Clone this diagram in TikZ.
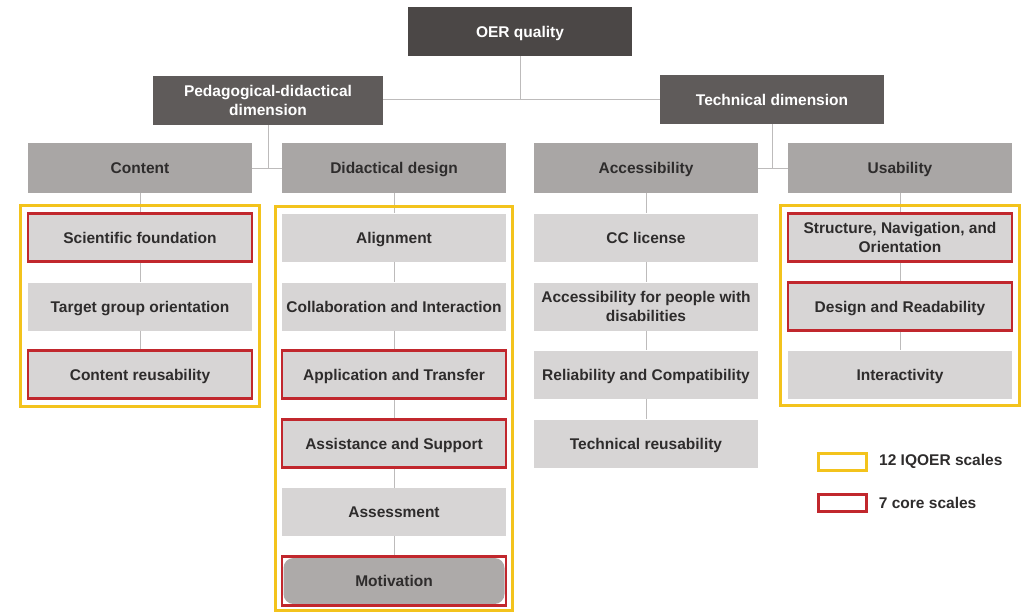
\documentclass[tikz,border=0pt]{standalone}
\usepackage{fontspec}
\setmainfont{Liberation Sans}
\usetikzlibrary{fit,positioning}
\definecolor{oerdark}{HTML}{4B4746}
\definecolor{dimgrey}{HTML}{5F5B5A}
\definecolor{midgrey}{HTML}{A9A6A5}
\definecolor{lightgrey}{HTML}{D7D5D5}
\definecolor{motgrey}{HTML}{ADAAA9}
\definecolor{textgrey}{HTML}{2E2C2C}
\definecolor{linegrey}{HTML}{BDBBBB}
\definecolor{corered}{HTML}{C1272D}
\definecolor{iqyellow}{HTML}{F3C31C}
\begin{document}
\begin{tikzpicture}
	[x=1pt,y=-1pt,
	font=\bfseries\fontsize{15.5}{19}\selectfont,
	box/.style={rectangle,minimum width=224pt,minimum height=49pt,inner sep=2pt,align=center,
		text height=14pt,text depth=3pt},
	twolines/.style={text height=,text depth=},
	top/.style={box,fill=oerdark,text=white},
	dimension/.style={box,fill=dimgrey,text=white},
	criterion/.style={box,minimum height=50pt,fill=midgrey,text=textgrey},
	scalebox/.style={box,minimum height=48pt,fill=lightgrey,text=textgrey},
	core/.style={draw=corered,line width=2.5pt},
	iqoer/.style={draw=iqyellow,line width=3pt,inner sep=6.5pt},
	link/.style={draw=linegrey,line width=1pt}]
	\useasboundingbox (0,0) rectangle (1025,613);
	% top levels
	\path node at (520,31.5)  [top]                                  (oer)  {OER quality}
		  node at (268,100.5) [dimension,twolines,minimum width=230pt] (ped)  {Pedagogical-didactical\\dimension}
		  node at (772,99.5)  [dimension]                            (tech) {Technical dimension};
	% criteria
	\path node at (140,168) [criterion] (content)   {Content}
		  node at (394,168) [criterion] (didactic)  {Didactical design}
		  node at (646,168) [criterion] (access)    {Accessibility}
		  node at (900,168) [criterion] (usab)      {Usability};
	% scales
	\path node at (140,237.5) [scalebox,core] (sf)   {Scientific foundation}
		  node at (140,306.5) [scalebox]      (tg)   {Target group orientation}
		  node at (140,374.5) [scalebox,core] (cr)   {Content reusability}
		  node at (394,237.5) [scalebox]      (al)   {Alignment}
		  node at (394,306.5) [scalebox]      (ci)   {Collaboration and Interaction}
		  node at (394,374.5) [scalebox,core] (at)   {Application and Transfer}
		  node at (394,443.5) [scalebox,core] (as)   {Assistance and Support}
		  node at (394,512)   [scalebox]      (ass)  {Assessment}
		  node at (394,581)   [scalebox,minimum width=221pt,minimum height=46pt,fill=motgrey,rounded corners=10pt] (mot) {Motivation}
		  node at (646,237.5) [scalebox]      (cc)   {CC license}
		  node at (646,306.5) [scalebox,twolines] (apd)  {Accessibility for people with\\disabilities}
		  node at (646,374.5) [scalebox]      (rc)   {Reliability and Compatibility}
		  node at (646,443.5) [scalebox]      (tr)   {Technical reusability}
		  node at (900,237.5) [scalebox,core,twolines] (sno)  {Structure, Navigation, and\\Orientation}
		  node at (900,306.5) [scalebox,core] (dr)   {Design and Readability}
		  node at (900,374.5) [scalebox]      (ia)   {Interactivity};
	\node [fit=(mot),inner sep=1.5pt,core] (motframe) {};
	% connectors
	\draw[link] (oer) -- (oer |- tech.west);
	\draw[link] (ped.east |- tech.west) -- (tech);
	\draw[link] (ped) -- (ped |- content.east);
	\draw[link] (content) -- (didactic);
	\draw[link] (tech) -- (tech |- access.east);
	\draw[link] (access) -- (usab);
	\draw[link] (content) -- (sf) (sf) -- (tg) (tg) -- (cr);
	\draw[link] (didactic) -- (al) (al) -- (ci) (ci) -- (at) (at) -- (as) (as) -- (ass) (ass) -- (motframe);
	\draw[link] (access) -- (cc) (cc) -- (apd) (apd) -- (rc) (rc) -- (tr);
	\draw[link] (usab) -- (sno) (sno) -- (dr) (dr) -- (ia);
	% IQOER frames
	\node [fit=(sf)(cr),iqoer] (contentframe) {};
	\node [fit=(al)(mot),iqoer] (didacticframe) {};
	\node [fit=(sno)(ia),iqoer] (usabframe) {};
	% legend
	\path node at (842.5,461.5) [draw=iqyellow,line width=3pt,minimum width=48pt,minimum height=17pt] (legiq) {}
		  node at (842.5,503)   [core,minimum width=48pt,minimum height=17pt] (legcore) {};
	\node [right=11pt of legiq,text=textgrey,inner sep=0pt]   (legiqtext)   {12 IQOER scales};
	\node [right=11pt of legcore,text=textgrey,inner sep=0pt] (legcoretext) {7 core scales};
\end{tikzpicture}
\end{document}
